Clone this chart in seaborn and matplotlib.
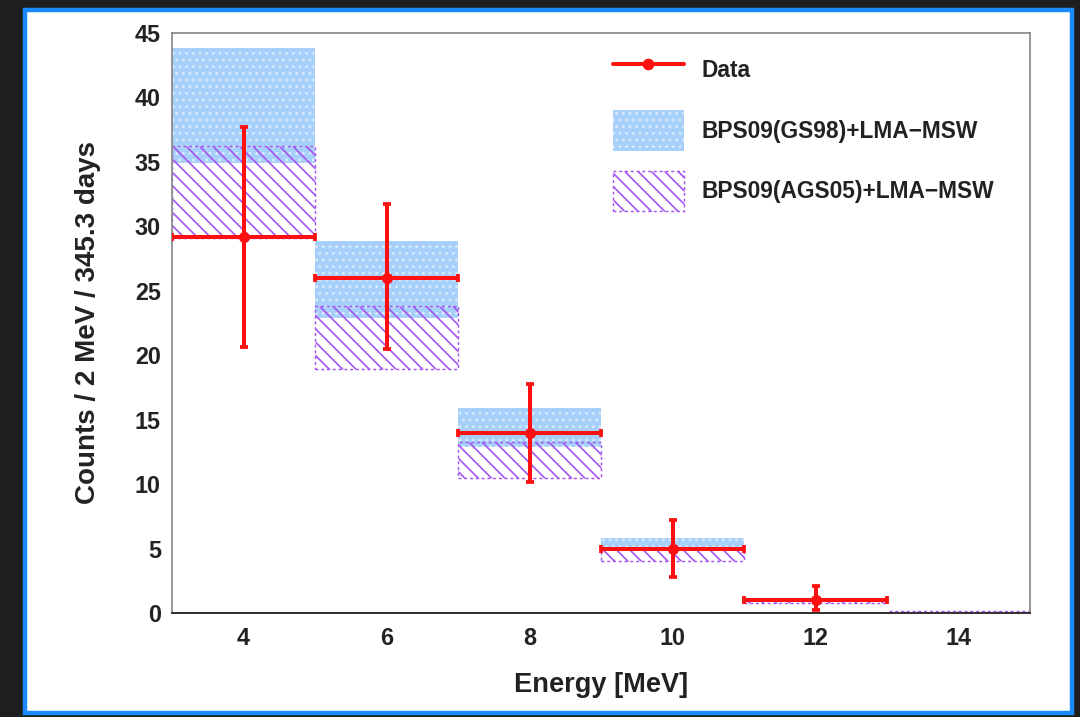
import numpy as np
import pandas as pd
import matplotlib.pyplot as plt
import seaborn as sns
from matplotlib.lines import Line2D
from matplotlib.patches import Patch, Rectangle

# DATA

bin_centers = [4, 6, 8, 10, 12, 14]
bin_width = 2

data_x = [4, 6, 8, 10, 12]
data_y = [29.2, 26.0, 14.0, 5.0, 1.0]
data_lo = [20.6, 20.5, 10.2, 2.8, 0.2]
data_hi = [37.7, 31.7, 17.8, 7.2, 2.1]

gs98_lo = [34.9, 22.9, 12.9, 4.8, 0.85, 0.0]
gs98_hi = [43.8, 28.9, 15.9, 5.8, 1.15, 0.1]

ags05_lo = [29.1, 18.9, 10.5, 4.0, 0.8, 0.0]
ags05_hi = [36.2, 23.8, 13.3, 5.0, 1.0, 0.15]

x_ticks = [4, 6, 8, 10, 12, 14]
y_ticks = [0, 5, 10, 15, 20, 25, 30, 35, 40, 45]

# STYLE

sns.set_style('white')
plt.rcParams['font.family'] = ['Liberation Sans', 'DejaVu Sans']
plt.rcParams['font.weight'] = 'bold'
plt.rcParams['hatch.linewidth'] = 1.5

blue = '#a6cff9'
purple = '#a454f2'
red = '#ff1010'

data_df = pd.DataFrame({'energy': data_x, 'counts': data_y,
                        'lo': data_lo, 'hi': data_hi})

# FIGURE

fig = plt.figure(figsize=(13.5, 8.9625), dpi=80)
fig.patch.set_facecolor('#1e1e1e')

# white card with blue frame
card = Rectangle((25 / 1080, 1 - 713 / 717), (1072 - 25) / 1080, (713 - 10) / 717,
                 transform=fig.transFigure, facecolor='white', edgecolor='#1a8cff',
                 linewidth=4, zorder=-10)
fig.patches.append(card)

ax = fig.add_axes([172 / 1080, 1 - 613 / 717, (1030 - 172) / 1080, (613 - 33) / 717])
ax.set_facecolor('none')
ax.set_zorder(5)

# GS98 band (blue, dotted)
gs98_h = np.array(gs98_hi) - np.array(gs98_lo)
ax.bar(bin_centers, gs98_h, width=bin_width, bottom=gs98_lo, color=blue,
       edgecolor='#d6e9fd', hatch='..', linewidth=0, zorder=1)

# AGS05 band (purple hatched)
ags05_h = np.array(ags05_hi) - np.array(ags05_lo)
ax.bar(bin_centers, ags05_h, width=bin_width, bottom=ags05_lo, facecolor='none',
       edgecolor=purple, hatch='\\\\', linewidth=1.3, linestyle=(0, (2, 2)), zorder=2)

# data with error bars
yerr = [data_df['counts'] - data_df['lo'], data_df['hi'] - data_df['counts']]
ax.errorbar(data_df['energy'], data_df['counts'], xerr=bin_width / 2, yerr=yerr,
            fmt='none', ecolor=red, elinewidth=3.6, capsize=3.5, capthick=3.4, zorder=3)
sns.scatterplot(data=data_df, x='energy', y='counts', color=red, s=100,
                edgecolor=red, linewidth=0, ax=ax, zorder=4, legend=False)

# axes
ax.set_xlim(3, 15)
ax.set_ylim(0, 45)
ax.set_xticks(x_ticks)
ax.set_yticks(y_ticks)
ax.tick_params(length=0, labelsize=21)
ax.tick_params(axis='x', pad=13)
ax.tick_params(axis='y', pad=10)
for lab in ax.get_xticklabels() + ax.get_yticklabels():
    lab.set_fontweight('bold')
    lab.set_color('#222222')
for side in ['top', 'right', 'left']:
    ax.spines[side].set_color('#8c8c8c')
    ax.spines[side].set_linewidth(1.6)
ax.spines['bottom'].set_color('#333333')
ax.spines['bottom'].set_linewidth(1.8)

ax.set_xlabel('Energy [MeV]', fontsize=24.5, fontweight='bold', color='#222222', labelpad=19)
ax.set_ylabel('Counts / 2 MeV / 345.3 days', fontsize=25, fontweight='bold',
              color='#222222', labelpad=30)

# legend
handles = [
    Line2D([0], [0], color=red, lw=3.6, marker='o', markersize=9.5),
    Patch(facecolor=blue, edgecolor='#d6e9fd', hatch='..', linewidth=0),
    Patch(facecolor='white', edgecolor=purple, hatch='\\\\', linewidth=1.3,
          linestyle=(0, (2, 2))),
]
labels = ['Data', 'BPS09(GS98)+LMA\u2212MSW', 'BPS09(AGS05)+LMA\u2212MSW']
leg = ax.legend(handles, labels, loc='upper left',
                bbox_to_anchor=(613 / 1080, 1 - 50 / 717), bbox_transform=fig.transFigure,
                frameon=False, borderpad=0, borderaxespad=0, fontsize=20.5,
                handlelength=3.1, handleheight=2.35, labelspacing=0.88, handletextpad=0.8)
for t in leg.get_texts():
    t.set_fontweight('bold')
    t.set_color('#222222')

fig.savefig('out.png', dpi=80, facecolor=fig.get_facecolor())
